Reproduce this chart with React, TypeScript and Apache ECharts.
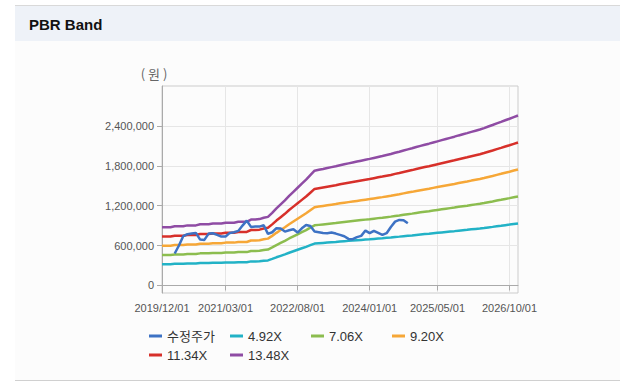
import React, { useEffect, useRef } from "react";
import * as echarts from "echarts";

// Monthly categories 2019/12/01 .. 2026/12/01
const START_YEAR = 2019;
const START_MONTH = 12;
const MONTH_COUNT = 85;
const CATEGORIES: string[] = [];
for (let i = 0; i < MONTH_COUNT; i++) {
  const m0 = START_MONTH - 1 + i;
  const y = START_YEAR + Math.floor(m0 / 12);
  const m = (m0 % 12) + 1;
  CATEGORIES.push(`${y}/${String(m).padStart(2, "0")}/01`);
}

// Labelled category indices on the x axis
const X_LABEL_INDEX = [0, 15, 32, 49, 65, 82];

// Y axis labels
const Y_TICKS = [0, 600000, 1200000, 1800000, 2400000];

// BPS (thousand won)
const BPS_K = [
  65.0, 65.0, 65.0, 66.0, 66.0, 66.0, 67.0, 67.0, 67.0, 68.3, 68.3, 68.3,
  69.0, 69.0, 69.0, 70.0, 70.0, 70.0, 71.0, 71.0, 71.0, 73.5, 73.5, 74.0,
  75.5, 76.5, 81.0, 86.0, 90.5, 95.0, 100.0, 104.5, 109.0, 113.5, 118.0, 123.0,
  128.0, 129.0, 130.0, 131.0, 132.0, 133.0, 134.2, 135.2, 136.2, 137.2, 138.2, 139.2,
  140.2, 141.2, 142.3, 143.4, 144.4, 145.5, 146.6, 148.0, 149.2, 150.5, 151.8, 153.0,
  154.4, 155.7, 157.0, 158.2, 159.5, 160.8, 162.1, 163.4, 164.7, 166.0, 167.4, 168.7,
  170.0, 171.4, 172.7, 174.0, 175.6, 177.3, 179.0, 180.8, 182.5, 184.3, 186.0, 187.8,
  189.6,
];

// PBR multiples of the bands
const MULTIPLES = [4.92, 7.06, 9.2, 11.34, 13.48];
const BAND_NAMES = ["4.92X", "7.06X", "9.20X", "11.34X", "13.48X"];

// Adjusted price (수정주가), monthly
const PRICE: (number | null)[] = [
  null, null, null, 480000, 600000, 740000, 770000, 780000, 790000, 690000, 685000, 780000,
  785000, 760000, 735000, 735000, 790000, 800000, 820000, 900000, 975000, 880000, 885000, 885000,
  905000, 775000, 800000, 860000, 855000, 810000, 830000, 846000, 795000, 860000, 910000, 895000,
  810000, 800000, 790000, 786000, 795000, 780000, 760000, 740000, 700000, 696000, 726000, 745000,
  825000, 786000, 820000, 790000, 760000, 786000, 880000, 960000, 985000, 980000, 935000,
];
const PRICE_NAME = "수정주가";

const PRICE_COLOR = "#3d72c4";
const BAND_COLORS = ["#22b2c6", "#8cbd4f", "#f6a737", "#d7302a", "#8f4ca4"];

const FONT = "'Liberation Sans', 'Noto Sans CJK KR', Arial, sans-serif";

export default function App() {
  const ref = useRef<HTMLDivElement>(null);

  useEffect(() => {
    if (!ref.current) return;
    const chart = echarts.init(ref.current, undefined, { renderer: "svg" });

    const bandSeries = MULTIPLES.map((mult, i) => ({
      name: BAND_NAMES[i],
      type: "line",
      data: BPS_K.map((b) => Math.round(b * 1000 * mult)),
      showSymbol: false,
      symbol: "none",
      lineStyle: { width: 2.5, color: BAND_COLORS[i] },
      itemStyle: { color: BAND_COLORS[i] },
    }));

    const priceSeries = {
      name: PRICE_NAME,
      type: "line",
      data: PRICE,
      showSymbol: false,
      symbol: "none",
      connectNulls: false,
      lineStyle: { width: 2.5, color: PRICE_COLOR },
      itemStyle: { color: PRICE_COLOR },
    };

    const legendNames = [PRICE_NAME, ...BAND_NAMES];
    const legendPos = [
      [149, 329], [230, 329], [311, 329], [392, 329],
      [149, 348], [230, 348],
    ];

    const showIdx = (idx: number) => X_LABEL_INDEX.indexOf(idx) >= 0;

    chart.setOption({
      animation: false,
      textStyle: { fontFamily: FONT },
      graphic: [
        { type: "rect", z: -10, shape: { x: 15, y: 5, width: 605, height: 1 }, style: { fill: "#d9d9d9" } },
        { type: "rect", z: -10, shape: { x: 15, y: 6, width: 605, height: 35 }, style: { fill: "#eef2f8" } },
        { type: "rect", z: -10, shape: { x: 15, y: 41, width: 605, height: 339 }, style: { fill: "#fcfcfc" } },
        { type: "rect", z: -10, shape: { x: 15, y: 380, width: 605, height: 1 }, style: { fill: "#d0d0d0" } },
        {
          type: "text",
          x: 29,
          y: 24,
          style: {
            text: "PBR Band",
            font: `bold 15px ${FONT}`,
            fill: "#111",
            verticalAlign: "middle",
          },
        },
        {
          type: "text",
          x: 154,
          y: 73,
          style: {
            text: "( 원 )",
            font: `13px 'Noto Sans CJK KR', sans-serif`,
            fill: "#666",
            align: "center",
            verticalAlign: "middle",
          },
        },
      ],
      grid: {
        left: 162,
        top: 86,
        width: 356,
        height: 207,
        show: true,
        borderColor: "#cccccc",
        borderWidth: 1,
        backgroundColor: "transparent",
      },
      legend: legendNames.map((n, i) => ({
        data: [n],
        left: legendPos[i][0],
        top: legendPos[i][1],
        padding: 0,
        itemGap: 0,
        itemWidth: 13,
        itemHeight: 3,
        icon: "rect",
        textStyle: { fontSize: 13, color: "#333", fontFamily: FONT, lineHeight: 14 },
      })),
      xAxis: {
        type: "category",
        data: CATEGORIES,
        boundaryGap: false,
        axisLine: { lineStyle: { color: "#aaaaaa" } },
        axisTick: { interval: (idx: number) => showIdx(idx), length: 5, lineStyle: { color: "#aaaaaa" } },
        axisLabel: {
          interval: (idx: number) => showIdx(idx),
          color: "#555",
          fontSize: 11,
          margin: 9,
          fontFamily: FONT,
        },
        splitLine: { show: true, interval: (idx: number) => showIdx(idx), lineStyle: { color: "#e6e6e6" } },
      },
      yAxis: {
        type: "value",
        min: -114000,
        max: 3000000,
        axisLine: { show: true, lineStyle: { color: "#aaaaaa" } },
        axisTick: { show: true, length: 5, customValues: Y_TICKS, lineStyle: { color: "#aaaaaa" } },
        axisLabel: {
          customValues: Y_TICKS,
          color: "#555",
          fontSize: 11,
          margin: 8,
          fontFamily: FONT,
          formatter: (v: number) => v.toLocaleString("en-US"),
        },
        splitLine: { show: true, lineStyle: { color: "#e6e6e6" } },
      },
      series: [...bandSeries, priceSeries],
    });

    return () => chart.dispose();
  }, []);

  return (
    <div
      style={{ position: "absolute", left: 0, top: 0, width: 620, height: 386, background: "#ffffff" }}
    >
      <div ref={ref} style={{ width: 620, height: 386 }} />
    </div>
  );
}
